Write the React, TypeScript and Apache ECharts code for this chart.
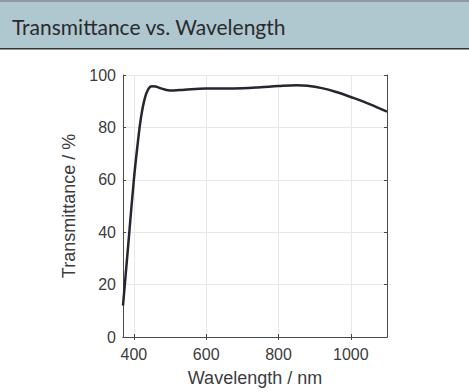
import React, { useEffect, useRef } from "react";
import * as echarts from "echarts";

const wavelengths = [370, 385, 400, 410, 420, 430, 440, 450, 460, 475, 490, 510, 540, 600, 650, 700, 750, 800, 850, 880, 920, 960, 1000, 1050, 1100];
const transmittance = [12, 36, 60, 73, 84, 91, 94.6, 95.7, 95.6, 94.9, 94.3, 94.1, 94.4, 94.8, 94.8, 94.9, 95.3, 95.8, 96.1, 95.9, 95.0, 93.5, 91.6, 89.0, 86.0];
const xTicks = [400, 600, 800, 1000];
const titleText = "Transmittance vs. Wavelength";

export default function App() {
  const ref = useRef<HTMLDivElement>(null);
  useEffect(() => {
    if (!ref.current) return;
    const chart = echarts.init(ref.current, null, { renderer: "svg" });
    const font = "'Liberation Sans', Arial, Helvetica, sans-serif";
    const textColor = "#3c3c40";
    const axisColor = "#4a4a4e";
    const common = {
      type: "value" as const,
      axisLine: { show: true, lineStyle: { color: axisColor, width: 1 } },
      axisTick: { show: true, inside: true, length: 3, lineStyle: { color: axisColor } },
    };
    chart.setOption({
      animation: false,
      backgroundColor: "#ffffff",
      grid: { left: 123, top: 75, right: 82, bottom: 55, containLabel: false },
      graphic: [
        { type: "rect", shape: { x: 0, y: 0, width: 469, height: 49 }, style: { fill: "#afc7cf" } },
        { type: "rect", shape: { x: 0, y: 0, width: 469, height: 2 }, style: { fill: "#8e9ba0" } },
        { type: "rect", shape: { x: 0, y: 48, width: 469, height: 1.5 }, style: { fill: "#2f3436" } },
        {
          type: "text",
          x: 12,
          y: 26,
          style: { text: titleText, fill: "#2a2a2e", font: "21px Lato, 'Noto Sans', sans-serif", verticalAlign: "middle", align: "left" },
        },
      ],
      xAxis: [
        {
          ...common,
          position: "bottom",
          min: 370,
          max: 1100,
          name: "Wavelength / nm",
          nameLocation: "middle",
          nameGap: 32,
          nameTextStyle: { color: textColor, fontSize: 18, fontFamily: font },
          axisLabel: {
            color: textColor,
            fontSize: 16,
            fontFamily: font,
            margin: 9,
            customValues: xTicks,
            formatter: (v: number) => String(v),
          },
          axisTick: { ...common.axisTick, customValues: xTicks },
          splitLine: { show: true, lineStyle: { color: "#e8e8e8", width: 1 } },
        },
        {
          ...common,
          position: "top",
          min: 370,
          max: 1100,
          axisLabel: { show: false, customValues: xTicks },
          axisTick: { ...common.axisTick, customValues: xTicks },
          splitLine: { show: false },
        },
      ],
      yAxis: [
        {
          ...common,
          position: "left",
          min: 0,
          max: 100,
          interval: 20,
          name: "Transmittance / %",
          nameLocation: "middle",
          nameGap: 40,
          nameTextStyle: { color: textColor, fontSize: 18, fontFamily: font },
          axisLabel: { color: textColor, fontSize: 16, fontFamily: font, margin: 7 },
          splitLine: { show: true, lineStyle: { color: "#e8e8e8", width: 1 } },
        },
        {
          ...common,
          position: "right",
          min: 0,
          max: 100,
          interval: 20,
          axisLabel: { show: false },
          splitLine: { show: false },
        },
      ],
      series: [
        {
          type: "line",
          xAxisIndex: 0,
          yAxisIndex: 0,
          data: wavelengths.map((w, i) => [w, transmittance[i]]),
          smooth: 0.4,
          showSymbol: false,
          symbol: "none",
          lineStyle: { color: "#26262e", width: 2.5 },
        },
      ],
    });
    return () => chart.dispose();
  }, []);
  return <div ref={ref} style={{ position: "fixed", left: 0, top: 0, width: 469, height: 392 }} />;
}
